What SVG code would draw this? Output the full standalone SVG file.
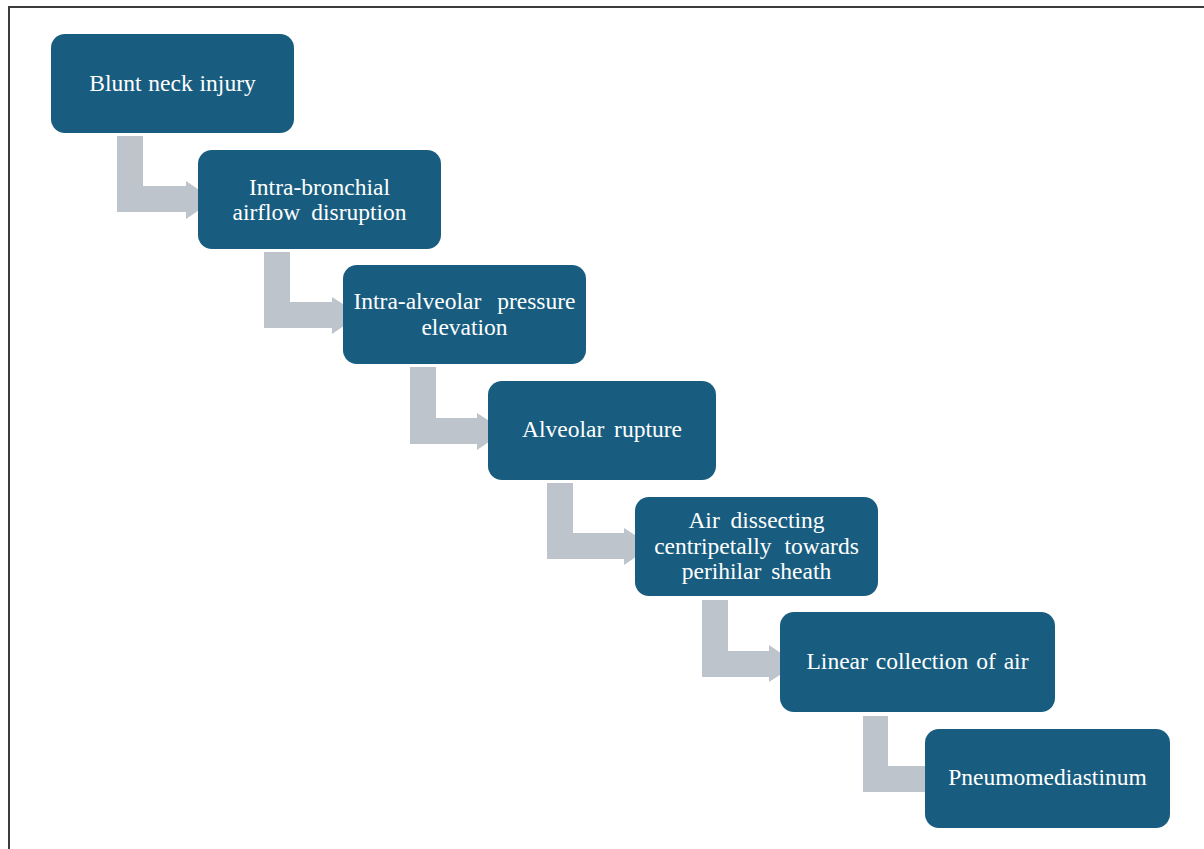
<svg xmlns="http://www.w3.org/2000/svg" width="1204" height="849" viewBox="0 0 1204 849">
<style>
.box{fill:#185d7f;}
.lbl{font-family:"Liberation Serif","Times New Roman",serif;font-size:23.5px;fill:#ffffff;text-anchor:middle;}
.conn{fill:#bec4cc;}
.frame{stroke:#3c3c3c;stroke-width:2;fill:none;}
</style>
<rect x="0" y="0" width="1204" height="849" fill="#ffffff"/>
<path class="frame" d="M9,849 L9,7 L1204,7"/>
<g id="connectors">
<path class="conn" d="M117,136 H143 V186 H186 V181 L214,200 L186,219 V212 H117 Z"/>
<path class="conn" d="M264,252 H290 V302 H332 V297 L360,315 L332,334 V328 H264 Z"/>
<path class="conn" d="M410,367 H436 V418 H477 V413 L505,431 L477,450 V444 H410 Z"/>
<path class="conn" d="M547,483 H573 V533 H624 V528 L652,546 L624,565 V559 H547 Z"/>
<path class="conn" d="M702,600 H728 V651 H769 V645 L797,664 L769,682 V677 H702 Z"/>
<path class="conn" d="M863,716 H888 V766 H930 V792 H863 Z"/>
</g>
<g id="node1"><rect class="box" x="51" y="34" width="243" height="99" rx="14"/><text class="lbl" x="172.5" y="91" word-spacing="1">Blunt neck injury</text></g>
<g id="node2"><rect class="box" x="198" y="150" width="243" height="99" rx="14"/><text class="lbl" x="319.5" y="195">Intra-bronchial</text><text class="lbl" x="319.5" y="220" word-spacing="5">airflow disruption</text></g>
<g id="node3"><rect class="box" x="343" y="265" width="243" height="99" rx="14"/><text class="lbl" x="464.5" y="309" word-spacing="10">Intra-alveolar pressure</text><text class="lbl" x="464.5" y="335">elevation</text></g>
<g id="node4"><rect class="box" x="488" y="381" width="228" height="99" rx="14"/><text class="lbl" x="602" y="437" word-spacing="4">Alveolar rupture</text></g>
<g id="node5"><rect class="box" x="635" y="497" width="243" height="99" rx="14"/><text class="lbl" x="756.5" y="528" word-spacing="5">Air dissecting</text><text class="lbl" x="756.5" y="554" word-spacing="7">centripetally towards</text><text class="lbl" x="756.5" y="579" word-spacing="4">perihilar sheath</text></g>
<g id="node6"><rect class="box" x="780" y="612" width="275" height="100" rx="14"/><text class="lbl" x="917.5" y="669" word-spacing="2">Linear collection of air</text></g>
<g id="node7"><rect class="box" x="925" y="729" width="245" height="99" rx="14"/><text class="lbl" x="1047.5" y="785">Pneumomediastinum</text></g>
</svg>
